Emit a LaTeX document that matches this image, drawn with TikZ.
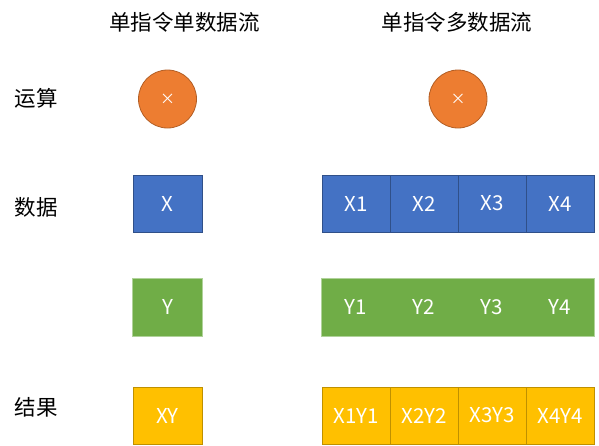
\documentclass[tikz,border=0pt]{standalone}
\usepackage{fontspec}
\setmainfont{Noto Sans CJK SC}
\definecolor{oporange}{HTML}{ED7D31}
\definecolor{opblue}{HTML}{4472C4}
\definecolor{opgreen}{HTML}{70AD47}
\definecolor{opyellow}{HTML}{FFC000}
\tikzset{
  rowlabel/.style={font=\fontsize{21.5}{24}\selectfont},
  title/.style={font=\fontsize{21.5}{24}\selectfont},
  opcircle/.style={circle, fill=oporange, draw=oporange!75!black, line width=0.8pt,
    minimum size=58pt, inner sep=0pt, text=white, font=\fontsize{15}{16}\selectfont},
  cell/.style={rectangle, minimum height=57pt, inner sep=0pt, line width=0.8pt,
    text=white, font=\fontsize{20.5}{24}\selectfont},
  xcell/.style={cell, fill=opblue, draw=opblue!70!black},
  ycell/.style={cell, fill=opgreen, draw=none},
  rcell/.style={cell, fill=opyellow, draw=opyellow!75!black}
}
\begin{document}
\begin{tikzpicture}[x=1pt, y=-1pt]
        \useasboundingbox (0,0) rectangle (599,445);

        % Titles
        \node[title] (sisd) at (184.5,22) {单指令单数据流};
        \node[title] (simd) at (457,22) {单指令多数据流};

        % Row labels
        \node[rowlabel] (op)   at (36,98)  {运算};
        \node[rowlabel] (data) at (36,207) {数据};
        \node[rowlabel] (res)  at (36,407) {结果};

        % Single instruction, single data
        \node[opcircle] (mul) at (167.5,99) {×};
        \node[xcell, minimum width=69pt] (x)  at (167.5,203.5) {X};
        \node[ycell, minimum width=69pt] (y)  at (167.5,307)   {Y};
        \draw[opgreen!55!white, line width=0.6pt] (y.north west) rectangle (y.south east);
        \node[rcell, minimum width=69pt] (xy) at (167.5,415.5) {XY};

        % Single instruction, multiple data
        \node[opcircle] (mulv) at (458,99) {×};
        \foreach \i in {1,...,4} {
          \node[xcell, minimum width=68pt] (x\i)  at (288+68*\i,203.5) {X\i};
          \node[ycell, minimum width=68pt] (y\i)  at (288+68*\i,307)   {Y\i};
          \node[rcell, minimum width=68pt] (xy\i) at (288+68*\i,415.5) {X\i Y\i};
        }
        \draw[opgreen!55!white, line width=0.6pt] (y1.north west) rectangle (y4.south east);

      \end{tikzpicture}
\end{document}
